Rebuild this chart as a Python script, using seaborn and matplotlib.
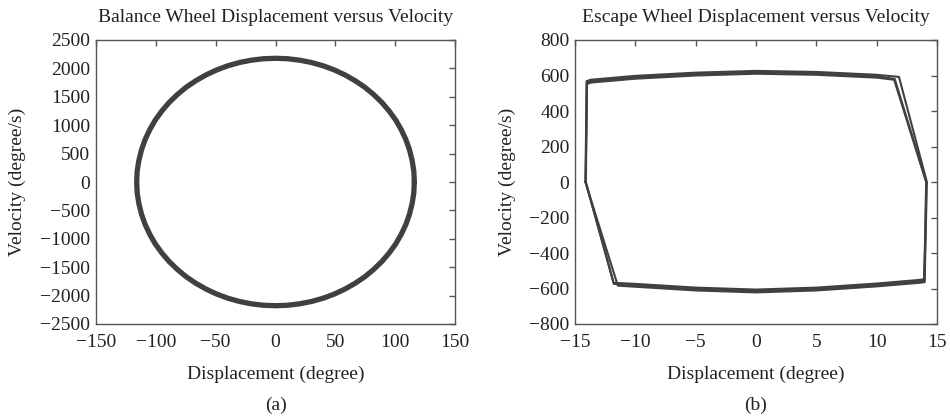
import matplotlib
matplotlib.use("Agg")
import matplotlib.pyplot as plt
import seaborn as sns
import pandas as pd

# ---- Data: balance wheel phase portrait (points read around the loop, quarter by quarter) ----
q_disp = [116.0, 115.6, 114.2, 112.0, 109.0, 105.1, 100.5, 95.0, 88.9, 82.0,
          74.6, 66.5, 58.0, 49.0, 39.7, 30.0, 20.1, 10.1, 0.0]
q_vel = [0, 190, 378, 564, 745, 920, 1089, 1249, 1400, 1540,
         1669, 1784, 1886, 1974, 2047, 2104, 2145, 2170, 2178]
# loop goes clockwise: right -> bottom -> left -> top -> right
bal_disp = (q_disp + [-d for d in q_disp[::-1]][1:] + [-d for d in q_disp][1:]
            + q_disp[::-1][1:])
bal_vel = ([-v for v in q_vel] + [-v for v in q_vel[::-1]][1:] + q_vel[1:]
           + q_vel[::-1][1:])

# ---- Data: escape wheel phase portrait, three overlapping cycles ----
esc_disp_1 = [-14.10, -14.05, -14.00, -13.70, -10.0, -5.0, 0.0, 5.0, 10.0, 11.45,
              14.10, 14.02, 13.92, 13.50, 10.0, 5.0, 0.0, -5.0, -10.0, -11.80, -14.10]
esc_vel_1 = [0, 300, 552, 560, 582, 600, 610, 604, 588, 576,
             0, -300, -548, -552, -572, -595, -606, -595, -574, -568, 0]
esc_disp_2 = [-14.14, -14.08, -14.04, -13.70, -10.0, -5.0, 0.0, 5.0, 10.0, 11.85,
              14.16, 14.06, 13.98, 13.50, 10.0, 5.0, 0.0, -5.0, -10.0, -11.45, -14.14]
esc_vel_2 = [0, 300, 568, 576, 598, 616, 626, 620, 604, 592,
             0, -300, -564, -568, -588, -611, -622, -611, -590, -584, 0]
esc_disp_3 = [-14.12, -14.06, -14.02, -13.70, -10.0, -5.0, 0.0, 5.0, 10.0, 11.50,
              14.12, 14.04, 13.95, 13.50, 10.0, 5.0, 0.0, -5.0, -10.0, -11.78, -14.12]
esc_vel_3 = [0, 300, 560, 568, 590, 608, 618, 612, 596, 580,
             0, -300, -556, -560, -580, -603, -614, -603, -582, -574, 0]

bal_xticks = [-150, -100, -50, 0, 50, 100, 150]
bal_yticks = [-2500, -2000, -1500, -1000, -500, 0, 500, 1000, 1500, 2000, 2500]
esc_xticks = [-15, -10, -5, 0, 5, 10, 15]
esc_yticks = [-800, -600, -400, -200, 0, 200, 400, 600, 800]

sns.set_style("white")
plt.rcParams['font.family'] = ['Liberation Serif', 'DejaVu Serif']
plt.rcParams['axes.unicode_minus'] = True

line_col = "#404040"
text_col = "#222222"
spine_col = "#555555"

fig = plt.figure(figsize=(9.5, 4.17), dpi=100)
ax1 = fig.add_axes([96/950, 1 - 324/417, 359/950, 284/417])
ax2 = fig.add_axes([575/950, 1 - 324/417, 362/950, 284/417])

df_bal = pd.DataFrame({"d": bal_disp, "v": bal_vel})
sns.lineplot(data=df_bal, x="d", y="v", sort=False, estimator=None, ax=ax1,
             color=line_col, lw=3.8)

for xs, vs in [(esc_disp_1, esc_vel_1), (esc_disp_2, esc_vel_2), (esc_disp_3, esc_vel_3)]:
    df = pd.DataFrame({"d": xs, "v": vs})
    sns.lineplot(data=df, x="d", y="v", sort=False, estimator=None, ax=ax2,
                 color=line_col, lw=1.5)

fs = 14
for ax, xt, yt, title, lab, ylx in [
        (ax1, bal_xticks, bal_yticks, "Balance Wheel Displacement versus Velocity", "(a)", 17),
        (ax2, esc_xticks, esc_yticks, "Escape Wheel Displacement versus Velocity", "(b)", 507)]:
    ax.set_xlim(xt[0], xt[-1])
    ax.set_ylim(yt[0], yt[-1])
    ax.set_xticks(xt)
    ax.set_yticks(yt)
    ax.tick_params(direction="in", top=True, right=True, length=4, width=1,
                   color=spine_col, labelsize=fs, labelcolor=text_col)
    ax.tick_params(axis="x", pad=7)
    ax.tick_params(axis="y", pad=4)
    for s in ax.spines.values():
        s.set_color(spine_col)
        s.set_linewidth(1.0)
        s.set_visible(True)
    ax.set_title(title, fontsize=fs, color=text_col, pad=13)
    ax.set_xlabel("Displacement (degree)", fontsize=fs, color=text_col, labelpad=11)
    ax.set_ylabel("Velocity (degree/s)", fontsize=fs, color=text_col, va="center")
    pos = ax.get_position()
    ax.yaxis.set_label_coords((ylx - pos.x0 * 950) / (pos.width * 950), 0.5)
    ax.text(0.5, (324 - 405) / 284, lab, transform=ax.transAxes, ha="center", va="center",
            fontsize=fs, color=text_col)

fig.savefig("out.png", dpi=100, facecolor="white")
